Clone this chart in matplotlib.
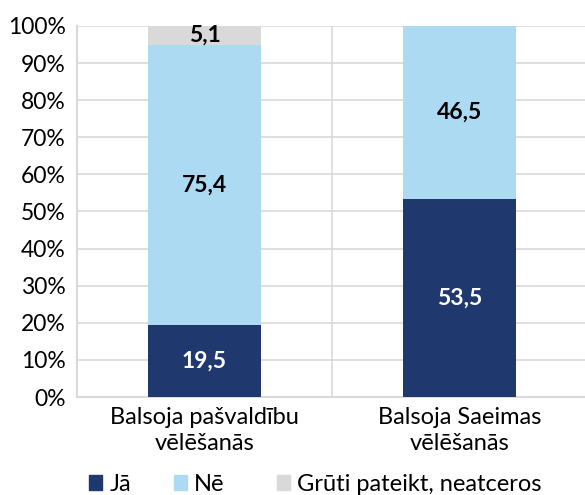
import matplotlib.pyplot as plt
from matplotlib.patches import Patch

categories = ["Balsoja pašvaldību\nvēlēšanās", "Balsoja Saeimas\nvēlēšanās"]
ja = [19.5, 53.5]
ne = [75.4, 46.5]
gruti = [5.1, 0.0]
series_names = ["Jā", "Nē", "Grūti pateikt, neatceros"]
colors = ["#1F386E", "#ADDAF3", "#D9D9D9"]

plt.rcParams['font.family'] = ['Lato', 'DejaVu Sans']

fig = plt.figure(figsize=(5.85, 4.95), dpi=100)
ax = fig.add_axes([77/585, 98/495, 510/585, 371/495])

x = range(len(categories))
w = 0.447
bottom = [0, 0]
for vals, col, name in zip([ja, ne, gruti], colors, series_names):
    ax.bar(x, vals, w, bottom=bottom, color=col, label=name, zorder=3)
    for i, v in enumerate(vals):
        if v > 0:
            tc = "white" if col == colors[0] else "black"
            ax.text(i, bottom[i] + v / 2, str(v).replace(".", ","), ha="center", va="center",
                    fontsize=16.5, fontweight="bold", color=tc, zorder=4)
    bottom = [b + v for b, v in zip(bottom, vals)]

ax.set_xlim(-0.5, 1.5)
ax.set_ylim(0, 100)
ax.set_yticks(range(0, 101, 10))
ax.set_yticklabels([f"{t}%" for t in range(0, 101, 10)], fontsize=16.5)
ax.set_xticks(list(x))
ax.set_xticklabels(categories, fontsize=17, linespacing=1.3)
ax.set_xticks([0.5], minor=True)
ax.tick_params(axis="y", which="both", length=0, pad=8)
ax.tick_params(axis="x", which="both", length=0, pad=7)
ax.grid(axis="y", color="#D9D9D9", lw=1.2, zorder=0)
ax.grid(axis="x", which="minor", color="#D9D9D9", lw=1.2, zorder=0)
for s in ["top", "right"]:
    ax.spines[s].set_visible(False)
ax.spines["left"].set_color("#D9D9D9")
ax.spines["left"].set_linewidth(1.5)
ax.spines["bottom"].set_color("#D9D9D9")
ax.spines["bottom"].set_linewidth(1.5)

# legend entries placed one by one, like the spaced Excel legend
leg_x = [68, 153, 256]
for lx, c, name in zip(leg_x, colors, series_names):
    fig.legend([Patch(color=c)], [name], loc="lower left",
               bbox_to_anchor=(lx/585, -21/495), frameon=False, fontsize=17,
               handlelength=0.55, handleheight=0.55, handletextpad=0.3)

fig.savefig("out.png", dpi=100)
